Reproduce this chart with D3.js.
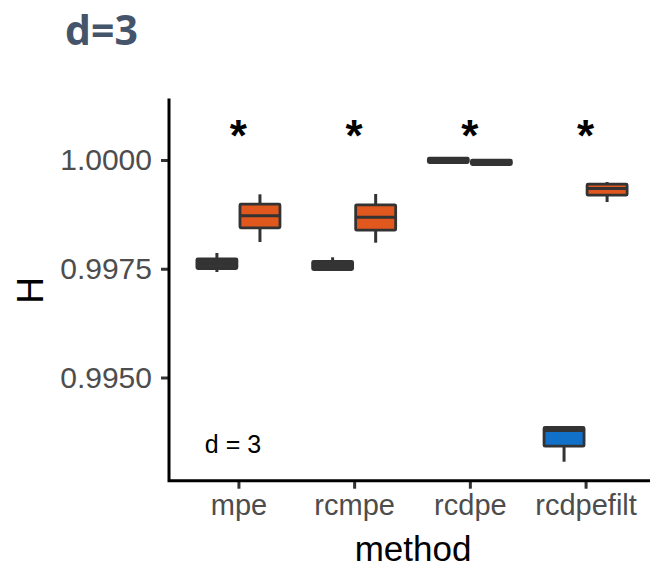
<!DOCTYPE html>
<html><head><meta charset="utf-8">
<script src="https://cdn.jsdelivr.net/npm/d3@7"></script>
<style>body{margin:0;background:#fff} svg{display:block}</style>
</head><body><svg id="c" width="650" height="569"></svg>
<script>
const methods = ["mpe","rcmpe","rcdpe","rcdpefilt"];
const dodgeGroups = ["left","right"];
const boxMethod = ["mpe","mpe","rcmpe","rcmpe","rcdpe","rcdpe","rcdpefilt","rcdpefilt"];
const boxGroup  = ["left","right","left","right","left","right","left","right"];
const boxClass  = ["dark","orange","dark","orange","dark","orange","blue","orange"];
const yMin = [0.997425,0.998115,0.997448,0.998099,0.999931,0.999885,0.993064,0.999034];
const yQ1  = [0.997506,0.998441,0.997483,0.998386,0.9999425,0.9998966,0.993421,0.999191];
const yMed = [0.997621,0.998720,0.997575,0.998683,0.9999931,0.9999471,0.993782,0.999345];
const yQ3  = [0.997729,0.998984,0.997667,0.998970,1.0000414,0.9999954,0.993851,0.999444];
const yMax = [0.997862,0.999211,0.997763,0.999218,1.0000575,1.0000115,0.993851,0.999494];
const yTicks = [0.995, 0.9975, 1.0];
const sigLabels = ["*","*","*","*"];
const sigValue = 1.00074;
const panelLabel = "d = 3";
const panelLabelValue = 0.99326;
const title = "d=3";
const xTitle = "method";
const yTitle = "H";

(function(){
const svg = d3.select("#c");
const pL = 169, pR = 655, pT = 100, pB = 480.7;
const x = d3.scalePoint().domain(methods).range([pL, pR]).padding(0.6);
const step = x.step();
const dodge = d3.scaleBand().domain(dodgeGroups).range([-0.372*step, 0.372*step]);
const y = d3.scaleLinear().domain([0.992628, 1.001379]).range([pB, pT]);
const color = d3.scaleOrdinal().domain(["dark","orange","blue"]).range(["#353535","#E0581E","#1170C8"]);
const stroke = "#333333";

svg.append("text").attr("x", 65).attr("y", 45).text(title)
  .attr("font-family","'Open Sans', sans-serif").attr("font-weight","bold")
  .attr("font-size", 41).attr("fill","#44546A");

const boxes = boxMethod.map((m,i)=>({m, g: boxGroup[i], c: boxClass[i], lo: yMin[i], q1: yQ1[i], med: yMed[i], q3: yQ3[i], hi: yMax[i]}));
const bw = 40;
const cx = d => x(d.m) + dodge(d.g) + dodge.bandwidth()/2;

const gB = svg.append("g");
gB.selectAll(".wl").data(boxes).join("line")
  .attr("x1", cx).attr("x2", cx).attr("y1", d=>y(d.lo)).attr("y2", d=>y(d.hi))
  .attr("stroke", stroke).attr("stroke-width", 3);
gB.selectAll(".bx").data(boxes).join("rect")
  .attr("x", d=>cx(d)-bw/2).attr("width", bw)
  .attr("y", d=>y(d.q3)).attr("height", d=>Math.max(0.5, y(d.q1)-y(d.q3)))
  .attr("fill", d=>color(d.c)).attr("stroke", stroke).attr("stroke-width", 2.8)
  .attr("stroke-linejoin","round").attr("rx", 1);
gB.selectAll(".md").data(boxes).join("line")
  .attr("x1", d=>cx(d)-bw/2).attr("x2", d=>cx(d)+bw/2)
  .attr("y1", d=>y(d.med)).attr("y2", d=>y(d.med))
  .attr("stroke", stroke).attr("stroke-width", 3);

const fontAxis = "'Liberation Sans', Arial, Helvetica, sans-serif";
const yAxis = svg.append("g").attr("transform", `translate(${pL},0)`)
  .call(d3.axisLeft(y).tickValues(yTicks).tickFormat(d3.format(".4f")).tickSize(8).tickPadding(9));
yAxis.select(".domain").remove();
yAxis.selectAll(".tick line").attr("stroke", stroke).attr("stroke-width", 3);
yAxis.selectAll(".tick text").attr("font-family", fontAxis).attr("font-size", 30).attr("fill","#4D4D4D");

const xAxis = svg.append("g").attr("transform", `translate(0,${pB})`)
  .call(d3.axisBottom(x).tickSize(8).tickPadding(6));
xAxis.select(".domain").remove();
xAxis.selectAll(".tick line").attr("stroke", stroke).attr("stroke-width", 3);
xAxis.selectAll(".tick text").attr("font-family", fontAxis).attr("font-size", 29).attr("fill","#4D4D4D");

svg.append("path").attr("d", `M${pL},${pT}V${pB}H${pR}`)
  .attr("fill","none").attr("stroke","#000").attr("stroke-width", 3).attr("stroke-linecap","square");

svg.append("text").attr("x", 413).attr("y", 561).attr("text-anchor","middle")
  .attr("font-family", fontAxis).attr("font-size", 35).attr("fill","#000").text(xTitle);
svg.append("text").attr("transform", `translate(43,${(pT+pB)/2}) rotate(-90)`).attr("text-anchor","middle")
  .attr("font-family", fontAxis).attr("font-size", 37).attr("fill","#000").text(yTitle);

svg.selectAll(".sig").data(methods).join("text")
  .attr("x", d=>x(d)).attr("y", y(sigValue)).attr("text-anchor","middle")
  .attr("dy", "0.52em").attr("font-weight","bold")
  .attr("font-family", fontAxis).attr("font-size", 44).attr("fill","#000").text((d,i)=>sigLabels[i]);

svg.append("text").attr("x", x("mpe") - 0.29*step).attr("y", y(panelLabelValue))
  .attr("font-family", fontAxis).attr("font-size", 25).attr("fill","#000").text(panelLabel);
})();
</script></body></html>
